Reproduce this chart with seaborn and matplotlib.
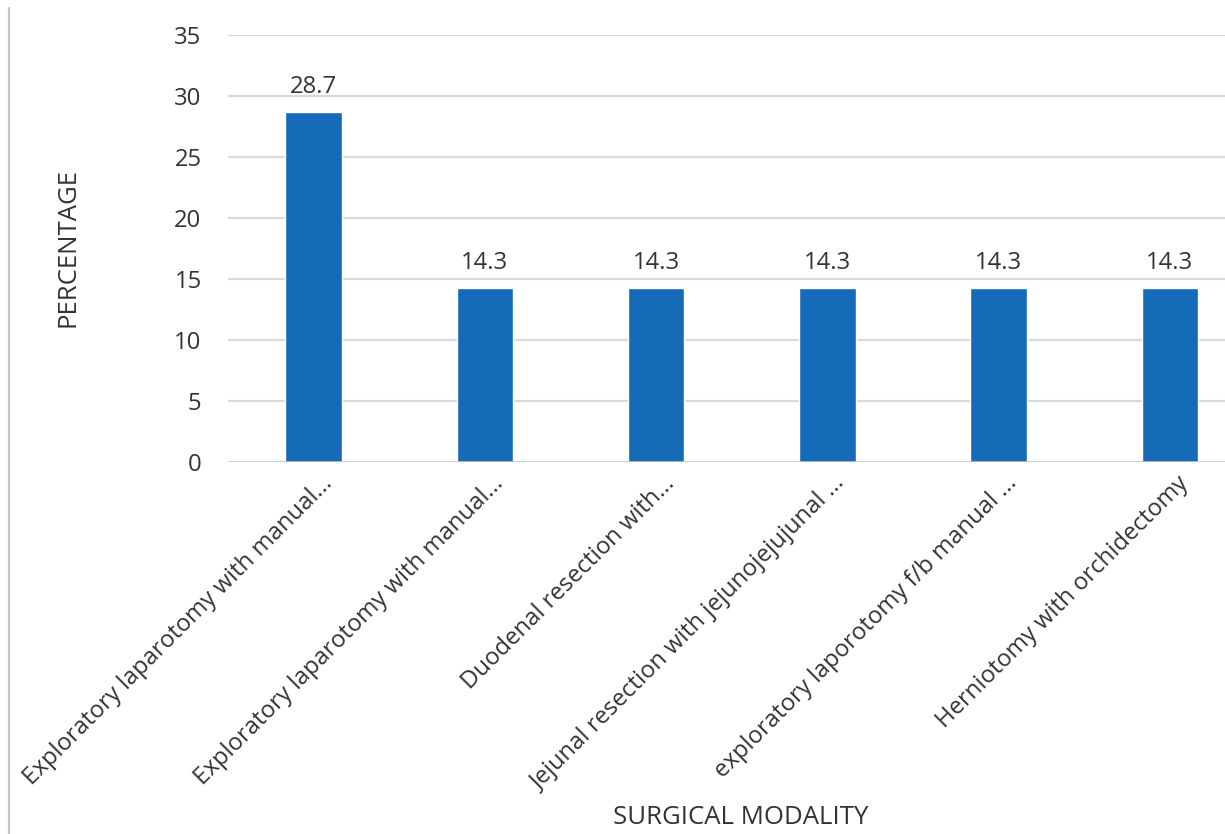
import matplotlib
matplotlib.use("Agg")
import matplotlib.pyplot as plt
import matplotlib.transforms as mtransforms
from matplotlib.lines import Line2D
import pandas as pd
import seaborn as sns

# Surgical procedures and share of cases (%)
procedures = [
    "Exploratory laparotomy with manual...",
    "Exploratory laparotomy with manual...",
    "Duodenal resection with...",
    "Jejunal resection with jejunojejujunal ...",
    "exploratory laporotomy f/b manual ...",
    "Herniotomy with orchidectomy",
]
percentages = [28.7, 14.3, 14.3, 14.3, 14.3, 14.3]
y_ticks = [0, 5, 10, 15, 20, 25, 30, 35]

df = pd.DataFrame({"procedure": range(len(procedures)), "pct": percentages})

sns.set_theme(style="white")
plt.rcParams["font.family"] = ["Open Sans", "DejaVu Sans"]
text_color = "#333333"
fs = 17.2
title_fs = 18.5

fig = plt.figure(figsize=(12.25, 8.34), dpi=100)
ax = fig.add_axes([228 / 1225, 372 / 834, 1027.5 / 1225, 427 / 834])

sns.barplot(data=df, x="procedure", y="pct", color="#166BB9", width=0.33,
            saturation=1, ax=ax, zorder=3)

ax.set_ylim(0, 35)
ax.set_xlim(-0.5, len(procedures) - 0.5)
ax.set_yticks(y_ticks)
ax.set_yticklabels([str(t) for t in y_ticks])

# horizontal gridlines, baseline slightly darker
for t in y_ticks[1:]:
    ax.axhline(t, color="#d9d9d9", lw=1.6, zorder=1)
ax.axhline(0, color="#bfbfbf", lw=1.8, zorder=4)

for s in ax.spines.values():
    s.set_visible(False)

ax.tick_params(axis="y", length=0, pad=19, labelsize=fs, labelcolor=text_color)
ax.tick_params(axis="x", length=0, pad=13, labelsize=fs, labelcolor=text_color)

ax.set_xticks(range(len(procedures)))
ax.set_xticklabels(procedures)
offset = mtransforms.ScaledTranslation(0.15, 0, fig.dpi_scale_trans)
for lbl in ax.get_xticklabels():
    lbl.set_rotation(45)
    lbl.set_rotation_mode("anchor")
    lbl.set_ha("right")
    lbl.set_va("center")
    lbl.set_transform(lbl.get_transform() + offset)

ax.bar_label(ax.containers[0], fmt="%.1f", padding=9, fontsize=fs,
             color=text_color)

ax.set_xlabel("")
ax.set_ylabel("")
fig.text(741 / 1225, 1 - 818 / 834, "SURGICAL MODALITY", ha="center",
         va="center", fontsize=title_fs, color=text_color)
fig.text(68 / 1225, 1 - 248 / 834, "PERCENTAGE", ha="center", va="center",
         rotation=90, fontsize=title_fs, color=text_color)

# thin frame line on the left edge of the figure
fig.add_artist(Line2D([9 / 1225, 9 / 1225], [0, 1 - 8 / 834],
                      transform=fig.transFigure, color="#c4c4c4", lw=1.6))

fig.savefig("out.png", dpi=100, facecolor="white")
